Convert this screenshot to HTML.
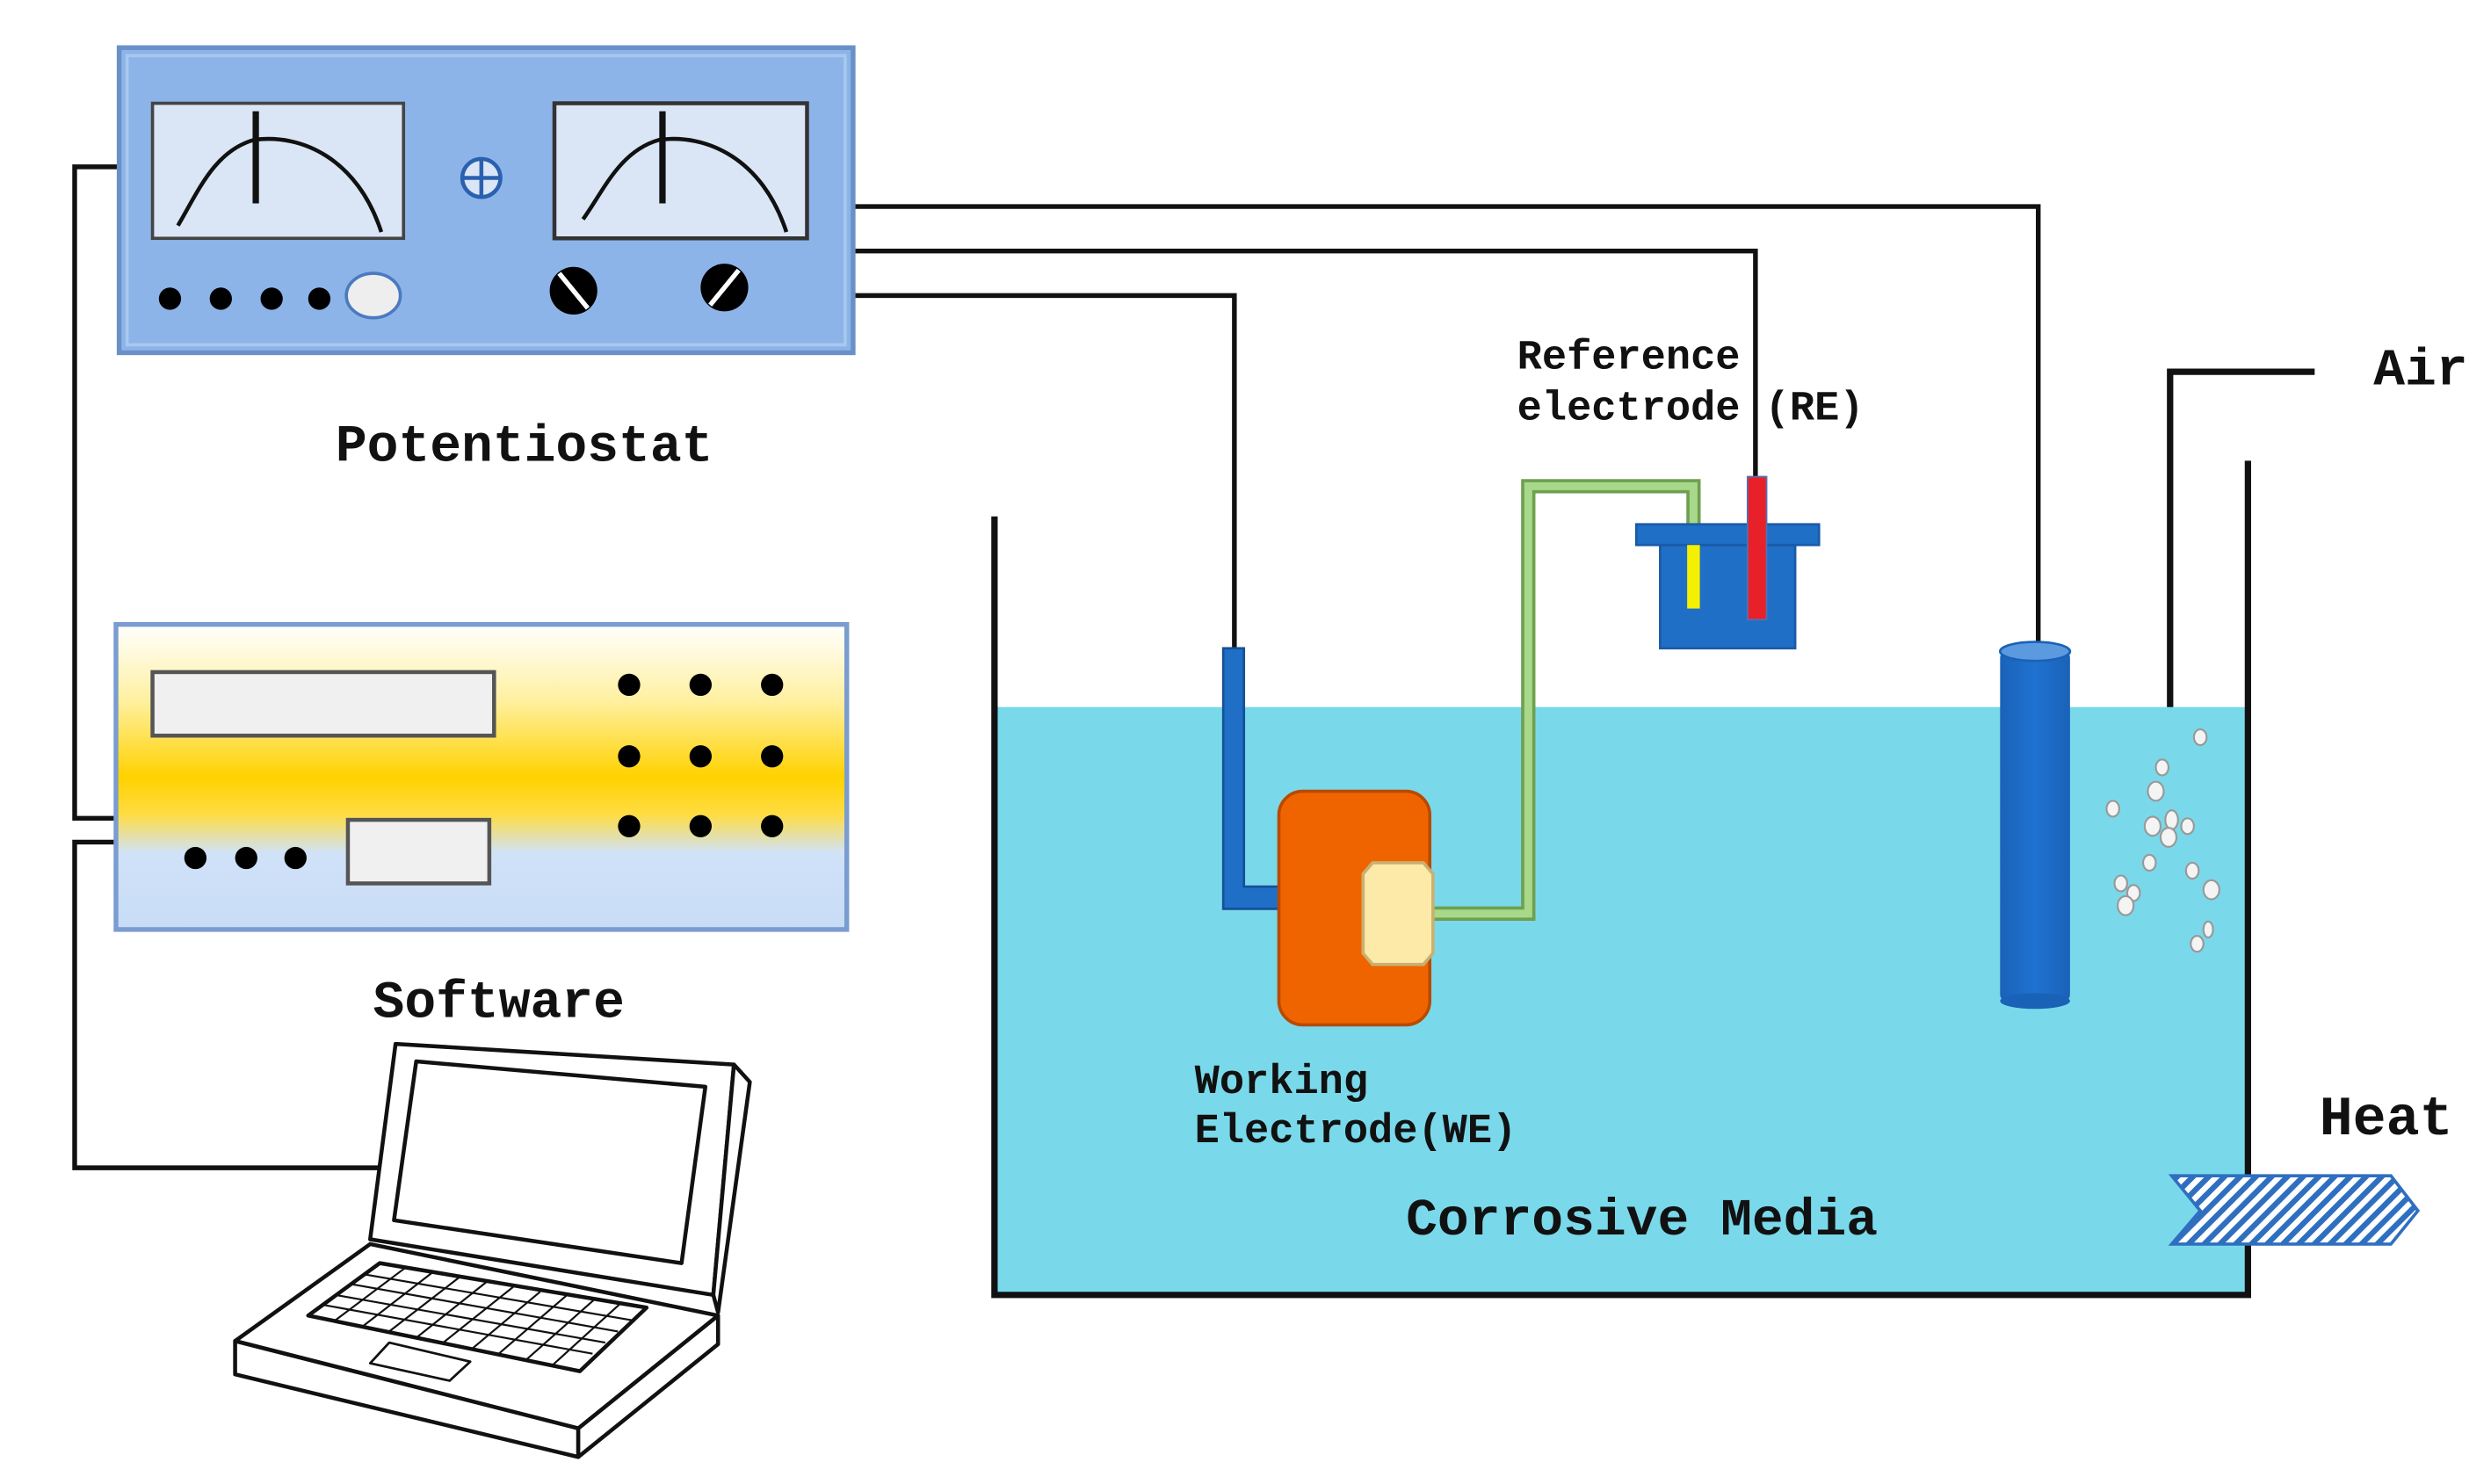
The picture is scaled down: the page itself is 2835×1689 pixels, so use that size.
<!DOCTYPE html>
<html><head><meta charset="utf-8"><style>
html,body{margin:0;padding:0;background:#fff;}
svg{display:block;}
text{font-family:"Liberation Mono","DejaVu Sans Mono",monospace;font-weight:bold;fill:#111;}
</style></head><body>
<svg width="2835" height="1689" viewBox="0 0 1568 934" preserveAspectRatio="none" xmlns="http://www.w3.org/2000/svg">
<defs>
<linearGradient id="sw" x1="0" y1="0" x2="0" y2="1">
<stop offset="0" stop-color="#ffffff"/>
<stop offset="0.25" stop-color="#fff0a0"/>
<stop offset="0.5" stop-color="#ffd200"/>
<stop offset="0.62" stop-color="#ffdc40"/>
<stop offset="0.75" stop-color="#d0e2f8"/>
<stop offset="1" stop-color="#c8dcf6"/>
</linearGradient>
<pattern id="hatch" width="7" height="7" patternUnits="userSpaceOnUse" patternTransform="rotate(45)">
<rect width="7" height="7" fill="#fff"/>
<rect width="3.5" height="7" fill="#2f6fc0"/>
</pattern>
<linearGradient id="cyl" x1="0" y1="0" x2="1" y2="0">
<stop offset="0" stop-color="#1a62b8"/><stop offset="0.5" stop-color="#1f72d0"/><stop offset="1" stop-color="#1a62b8"/>
</linearGradient>
</defs>

<!-- wires left -->
<path d="M75,105 H47 V515 H73" fill="none" stroke="#111" stroke-width="3"/>
<path d="M73,530 H47 V735 H240" fill="none" stroke="#111" stroke-width="3"/>
<!-- wires right -->
<path d="M537,130 H1283 V405" fill="none" stroke="#111" stroke-width="3"/>
<path d="M537,158 H1105 V300" fill="none" stroke="#111" stroke-width="3"/>
<path d="M537,186 H777 V408" fill="none" stroke="#111" stroke-width="3"/>

<!-- Potentiostat -->
<rect x="75" y="30" width="462" height="192" fill="#8db4e8" stroke="#6a90c8" stroke-width="3"/>
<rect x="80" y="35" width="452" height="182" fill="none" stroke="#a8c8f0" stroke-width="2"/>
<rect x="96" y="65" width="158" height="85" fill="#dae6f5" stroke="#444" stroke-width="2"/>
<rect x="349" y="65" width="159" height="85" fill="#dae6f5" stroke="#333" stroke-width="2.5"/>
<path d="M112,142 C125,120 135,95 160,88 C190,84 225,100 240,146" fill="none" stroke="#111" stroke-width="2.5"/>
<line x1="161" y1="70" x2="161" y2="128" stroke="#111" stroke-width="4"/>
<path d="M367,138 C380,120 390,95 415,88 C445,84 480,100 495,146" fill="none" stroke="#111" stroke-width="2.5"/>
<line x1="417" y1="70" x2="417" y2="128" stroke="#111" stroke-width="4"/>
<circle cx="303" cy="112" r="12" fill="#dae6f5" stroke="#2a60b0" stroke-width="2.5"/>
<line x1="291" y1="112" x2="315" y2="112" stroke="#2a60b0" stroke-width="2.5"/>
<line x1="303" y1="100" x2="303" y2="124" stroke="#2a60b0" stroke-width="2.5"/>
<circle cx="107" cy="188" r="7" fill="#000"/><circle cx="139" cy="188" r="7" fill="#000"/>
<circle cx="171" cy="188" r="7" fill="#000"/><circle cx="201" cy="188" r="7" fill="#000"/>
<ellipse cx="235" cy="186" rx="17" ry="14" fill="#eee" stroke="#4a7ac0" stroke-width="2"/>
<circle cx="361" cy="183" r="15" fill="#000"/><line x1="352" y1="172" x2="370" y2="194" stroke="#fff" stroke-width="3"/>
<circle cx="456" cy="181" r="15" fill="#000"/><line x1="465" y1="170" x2="447" y2="192" stroke="#fff" stroke-width="3"/>
<text x="330" y="290" font-size="33" text-anchor="middle">Potentiostat</text>

<!-- Software box -->
<rect x="73" y="393" width="460" height="192" fill="url(#sw)" stroke="#7a9cd0" stroke-width="3"/>
<rect x="96" y="423" width="215" height="40" fill="#f0f0f0" stroke="#555" stroke-width="2.5"/>
<rect x="219" y="516" width="89" height="40" fill="#f0f0f0" stroke="#555" stroke-width="2.5"/>
<g fill="#000">
<circle cx="396" cy="431" r="7"/><circle cx="441" cy="431" r="7"/><circle cx="486" cy="431" r="7"/>
<circle cx="396" cy="476" r="7"/><circle cx="441" cy="476" r="7"/><circle cx="486" cy="476" r="7"/>
<circle cx="396" cy="520" r="7"/><circle cx="441" cy="520" r="7"/><circle cx="486" cy="520" r="7"/>
<circle cx="123" cy="540" r="7"/><circle cx="155" cy="540" r="7"/><circle cx="186" cy="540" r="7"/>
</g>
<text x="314" y="640" font-size="33" text-anchor="middle">Software</text>

<!-- Laptop -->
<g fill="#fff" stroke="#111" stroke-width="2.5" stroke-linejoin="round">
<polygon points="148,844 233,783 452,828 364,899"/>
<polygon points="148,844 364,899 364,917 148,865"/>
<polygon points="364,899 452,828 452,846 364,917"/>
<polygon points="249,657 462,670 449,815 233,780"/>
<polygon points="462,670 472,681 452,826 449,815"/>
<polygon points="262,668 444,684 429,795 248,768"/>
<polygon points="239,795 407,823 365,863 194,828"/>
<polygon points="245,845 296,857 283,869 233,858" stroke-width="1.5"/>
</g>
<g stroke="#111" stroke-width="1.2" fill="none">
<line x1="229" y1="802" x2="398" y2="831"/><line x1="220" y1="808" x2="389" y2="838"/>
<line x1="211" y1="815" x2="381" y2="845"/><line x1="202" y1="821" x2="373" y2="852"/>
<line x1="255" y1="798" x2="211" y2="831"/><line x1="272" y1="801" x2="228" y2="835"/>
<line x1="289" y1="804" x2="245" y2="838"/><line x1="306" y1="807" x2="262" y2="842"/>
<line x1="323" y1="810" x2="279" y2="845"/><line x1="340" y1="813" x2="297" y2="849"/>
<line x1="357" y1="815" x2="314" y2="852"/><line x1="374" y1="818" x2="331" y2="856"/>
<line x1="391" y1="820" x2="348" y2="859"/>
</g>

<!-- Tank -->
<rect x="626" y="445" width="789" height="370" fill="#79d9ea"/>
<path d="M626,325 V815 H1415 V290" fill="none" stroke="#111" stroke-width="4"/>
<!-- Air pipe -->
<path d="M1366,445 V234 H1457" fill="none" stroke="#111" stroke-width="4"/>
<text x="1494" y="242" font-size="33">Air</text>

<!-- green tube -->
<path d="M900,575 H962 V306 H1066 V335" fill="none" stroke="#6ea050" stroke-width="9"/>
<path d="M900,575 H962 V306 H1066 V335" fill="none" stroke="#a8d88a" stroke-width="5"/>

<!-- WE rod -->
<path d="M770,408 H783 V558 H805 V572 H770 Z" fill="#1f6fc6" stroke="#164f96" stroke-width="1.5"/>
<rect x="805" y="498" width="95" height="147" rx="15" fill="#f06400" stroke="#b84a00" stroke-width="2"/>
<path d="M864,543 H896 L902,550 V600 L896,607 H864 L858,600 V550 Z" fill="#fde9a8" stroke="#c8b070" stroke-width="2"/>

<!-- Reference cell -->
<rect x="1045" y="343" width="85" height="65" fill="#1f6fc6" stroke="#1a5aa8" stroke-width="1.5"/>
<rect x="1030" y="330" width="115" height="13" fill="#1f6fc6" stroke="#1a5aa8" stroke-width="1.5"/>
<rect x="1062" y="343" width="8" height="40" fill="#f5f000"/>
<rect x="1100" y="300" width="12" height="90" fill="#e8202a" stroke="#5570b0" stroke-width="1"/>
<text x="955" y="232" font-size="26">Reference</text>
<text x="955" y="264" font-size="26">electrode (RE)</text>

<!-- Counter electrode -->
<rect x="1259" y="410" width="44" height="220" rx="4" fill="url(#cyl)"/>
<ellipse cx="1281" cy="630" rx="22" ry="5" fill="#1a62b8"/>
<ellipse cx="1281" cy="410" rx="22" ry="6" fill="#5c9ae0" stroke="#1a62b8" stroke-width="1.5"/>

<!-- bubbles -->
<g fill="#f4f4f4" stroke="#999" stroke-width="1.2">
<ellipse cx="1385" cy="464" rx="4" ry="5"/><ellipse cx="1361" cy="483" rx="4" ry="5"/>
<ellipse cx="1357" cy="498" rx="5" ry="6"/><ellipse cx="1330" cy="509" rx="4" ry="5"/>
<ellipse cx="1355" cy="520" rx="5" ry="6"/><ellipse cx="1367" cy="516" rx="4" ry="6"/>
<ellipse cx="1377" cy="520" rx="4" ry="5"/><ellipse cx="1365" cy="527" rx="5" ry="6"/>
<ellipse cx="1353" cy="543" rx="4" ry="5"/><ellipse cx="1380" cy="548" rx="4" ry="5"/>
<ellipse cx="1335" cy="556" rx="4" ry="5"/><ellipse cx="1343" cy="562" rx="4" ry="5"/>
<ellipse cx="1392" cy="560" rx="5" ry="6"/><ellipse cx="1338" cy="570" rx="5" ry="6"/>
<ellipse cx="1390" cy="585" rx="3" ry="5"/><ellipse cx="1383" cy="594" rx="4" ry="5"/>
</g>

<text x="752" y="688" font-size="26">Working</text>
<text x="752" y="719" font-size="26">Electrode(WE)</text>
<text x="885" y="777" font-size="33">Corrosive Media</text>

<!-- Heat -->
<text x="1460" y="714" font-size="35">Heat</text>
<polygon points="1367,740 1505,740 1522,762 1505,783 1367,783 1385,762" fill="url(#hatch)" stroke="#2f6fc0" stroke-width="2"/>
</svg>
</body></html>
